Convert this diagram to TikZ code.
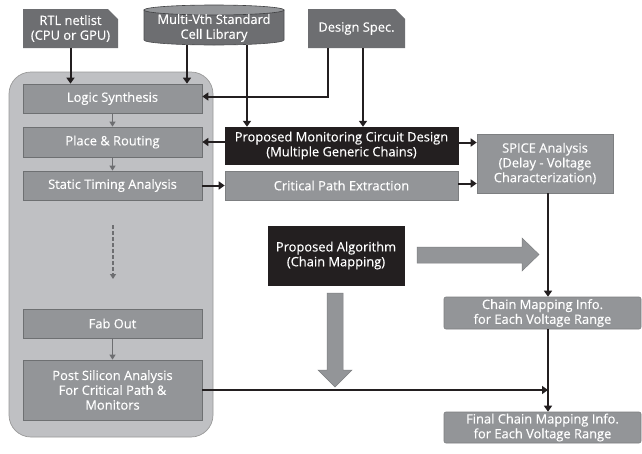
\documentclass[tikz,border=0pt]{standalone}
\usepackage{fontspec}
\setmainfont{Open Sans}
\newfontfamily\lblfont[FakeBold=0.35]{Open Sans}
\usetikzlibrary{arrows.meta,shapes.misc}
\definecolor{dkg}{HTML}{6D6E71}
\definecolor{midg}{HTML}{939598}
\definecolor{panelg}{HTML}{BFC0C3}
\definecolor{blk}{HTML}{231F20}
\begin{document}
\begin{tikzpicture}[x=1pt,y=-1pt,
  txt/.style={text=white, font=\lblfont\fontsize{12.9}{14.8}\selectfont, align=center, inner sep=0pt},
  inbox/.style={txt, fill=midg, draw=midg!75!black, line width=0.7pt, minimum width=179pt},
  blkbox/.style={txt, fill=blk, draw=blk},
  graybox/.style={txt, fill=midg, draw=midg!85!black, line width=0.6pt},
  topbox/.style={txt, fill=dkg, chamfered rectangle, chamfered rectangle corners=north east,
     chamfered rectangle xsep=5pt, chamfered rectangle ysep=5pt, minimum width=95pt, minimum height=39pt},
  panelbox/.style={fill=panelg, draw=gray!80, line width=0.7pt, rounded corners=22pt},
  arr/.style={line width=2pt, draw=blk, -{Triangle[length=6pt,width=8pt]}},
  smallarr/.style={line width=1.3pt, draw=dkg, -{Triangle[length=5pt,width=6pt]}},
  bigarr/.style={fill=midg, draw=midg!85!black, line width=0.5pt}
]
\useasboundingbox (0,0) rectangle (642,453);
\fill[white] (0,0) rectangle (642,453);

% left panel
\node[panelbox, minimum width=204pt, minimum height=365pt] (panel) at (111,254.5) {};
\node[inbox, minimum height=29pt] (ls) at (112.5,98.5) {Logic Synthesis};
\node[inbox, minimum height=30pt] (pr) at (112.5,142) {Place \& Routing};
\node[inbox, minimum height=29pt] (sta) at (112.5,185.5) {Static Timing Analysis};
\node[inbox, minimum height=29pt] (fab) at (112.5,323.5) {Fab Out};
\node[inbox, minimum height=60pt] (psa) at (112.5,390) {Post Silicon Analysis\\For Critical Path \&\\Monitors};

\draw[smallarr] (ls.south) -- (pr.north);
\draw[smallarr] (pr.south) -- (sta.north);
\draw[smallarr] (fab.south) -- (psa.north);
\coordinate (dA) at (113,225);
\coordinate (dB) at (113,279);
\draw[smallarr, dashed, dash pattern=on 4pt off 2pt] (dA) -- (dB);

% top inputs
\node[topbox] (rtl) at (70.5,28.5) {RTL netlist\\(CPU or GPU)};
\node[topbox, minimum width=97pt] (spec) at (356.5,28.5) {Design Spec.};
\filldraw[fill=dkg, draw=dkg!70!black, line width=0.6pt] (144,10) -- (144,40)
   arc[start angle=180, end angle=360, x radius=70pt, y radius=5pt] -- (284,10) -- cycle;
\filldraw[fill=midg, draw=dkg!60!black, line width=0.6pt] (214,10) ellipse[x radius=70pt, y radius=5pt];
\node[txt, minimum width=140pt, minimum height=34pt] (lib) at (214,28) {Multi-Vth Standard\\Cell Library};

% middle boxes
\node[blkbox, minimum width=233pt, minimum height=37pt] (pmc) at (341.5,145.5) {Proposed Monitoring Circuit Design\\(Multiple Generic Chains)};
\node[graybox, minimum width=233pt, minimum height=29pt] (cpe) at (341.5,185.5) {Critical Path Extraction};
\node[graybox, minimum width=136pt, minimum height=59pt] (spice) at (545,163.5) {SPICE Analysis\\(Delay - Voltage\\Characterization)};
\node[blkbox, minimum width=136pt, minimum height=59pt] (alg) at (336,255.5) {Proposed Algorithm\\(Chain Mapping)};
\node[graybox, rounded corners=2pt, minimum width=197pt, minimum height=32pt] (cmi) at (542.5,313) {Chain Mapping Info.\\for Each Voltage Range};
\node[graybox, rounded corners=2pt, minimum width=197pt, minimum height=31pt] (fin) at (542.5,427.5) {Final Chain Mapping Info.\\for Each Voltage Range};

% connectors
\coordinate (libA) at ([xshift=-27pt]lib.south);
\coordinate (libB) at ([xshift=33pt]lib.south);
\coordinate (specA) at ([xshift=-28.5pt]spec.south);
\coordinate (specB) at ([xshift=6.5pt]spec.south);
\coordinate (spA) at ([xshift=3pt]spice.south);
\coordinate (join) at (548,390);

\draw[arr] (rtl.south) -- (rtl.south |- ls.north);
\draw[arr] (libA) -- (libA |- ls.north);
\draw[arr] (libB) -- (libB |- pmc.north);
\draw[arr] (specA) |- ([yshift=2pt]ls.east);
\draw[arr] (specB) -- (specB |- pmc.north);
\draw[arr] (pmc.west |- pr.east) -- (pr.east);
\draw[arr] (sta.east) -- (sta.east -| cpe.west);
\draw[arr] ([yshift=3pt]pmc.east) -- ([yshift=3pt]pmc.east -| spice.west);
\draw[arr] ([yshift=2pt]cpe.east) -- ([yshift=2pt]cpe.east -| spice.west);
\draw[arr] (spA) -- (spA |- cmi.north);
\draw[arr] (spA |- cmi.south) -- (spA |- fin.north);
\draw[arr] (psa.east) -- (join);

% big gray arrows
\filldraw[bigarr] (417,247) -- (522,247) -- (522,238) -- (539,254.5) -- (522,271) -- (522,263) -- (417,263) -- cycle;
\filldraw[bigarr] (327,293) -- (343,293) -- (343,370) -- (352,370) -- (335,387) -- (318,370) -- (327,370) -- cycle;
\end{tikzpicture}
\end{document}
